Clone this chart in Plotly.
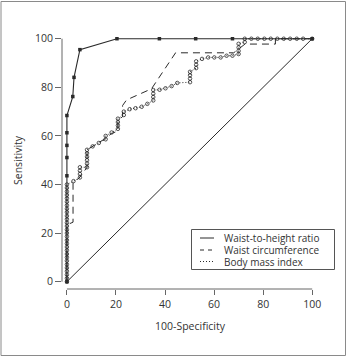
import plotly.graph_objects as go

# ---- data ----
whtr_x = [0, 0, 0, 0, 0, 0, 2.4, 2.9, 5.3, 20.4, 37.7, 52.5, 67.5, 100]
whtr_y = [0, 43.6, 51.1, 56.1, 61.3, 68.4, 76.2, 84.1, 95.5, 100, 100, 100, 100, 100]

wc_x = [0, 0, 2.5, 2.5, 5.3, 8.2, 8.2, 10.5, 13, 15.8, 18.2, 20.8, 20.8, 22.7, 22.7,
        24.3, 34.5, 44.3, 68, 70.6, 72.6, 85, 85, 100]
wc_y = [0, 23.4, 24.5, 40.6, 43, 47.1, 54.3, 55.7, 57.1, 59, 61, 62, 66, 68, 72.5,
        74.8, 79.4, 94.2, 94.2, 96.4, 97.8, 97.8, 100, 100]

bmi_x = [0, 0, 0, 0, 0, 0, 0, 0, 0, 0, 0, 0, 0, 0, 0, 0, 0, 0, 0, 0, 0, 0, 0, 0, 0, 0, 0, 0, 0,
         2.7,
         5.3, 5.3, 5.3, 5.3,
         8.2, 8.2, 8.2, 8.2, 8.2, 8.2,
         10.5, 13, 15.8, 15.8, 18.2,
         20.8, 20.8, 20.8, 20.8,
         23.2, 23.2, 25.6, 28, 30.5, 32.8,
         35.2, 35.2, 35.2, 35.2,
         37.8, 40.2, 42.7, 45,
         50.2, 50.2, 50.2, 50.2,
         52.7, 52.7, 52.7, 55.1,
         57.6, 60.1, 62.7, 65.1, 67.5,
         70, 70, 70, 70,
         72.5, 72.5,
         75.2, 77.8, 80.5, 83.1, 85.8, 88.4, 91, 93.7, 96.3, 100]
bmi_y = [0, 1.4, 2.9, 4.3, 5.7, 7.1, 8.6, 10, 11.4, 12.9, 14.3, 15.7, 17.1, 18.6, 20,
         21.4, 22.9, 24.3, 25.7, 27.1, 28.6, 30, 31.4, 32.9, 34.3, 35.7, 37.1, 38.6, 40,
         41.4,
         42.9, 44.3, 45.7, 47.1,
         47.1, 48.6, 50, 51.4, 52.9, 54.3,
         55.7, 57.1, 58.6, 60, 61.4,
         62.9, 64.3, 65.7, 67.1,
         68.6, 70, 71, 71.4, 72, 73.2,
         74.6, 76, 77.4, 78.9,
         79, 79.6, 80.5, 81.8,
         82.1, 83.6, 85, 86.4,
         87.9, 89.3, 90.7, 91.7,
         92.3, 92.3, 92.3, 93, 93,
         93.7, 95, 96.4, 97.9,
         98.6, 100,
         100, 100, 100, 100, 100, 100, 100, 100, 100, 100]

ref_x = [0, 100]
ref_y = [0, 100]

x_ticks = [0, 20, 40, 60, 80, 100]
y_ticks = [0, 20, 40, 60, 80, 100]
legend_labels = ["Waist-to-height ratio", "Waist circumference", "Body mass index"]

INK = "#2a2a2a"
TXT = "#333333"
AX = "#666666"
FONT = "Open Sans"
FS = 10.5
LFS = 10

W, H = 348, 357
ML, MR, MT, MB = 62, 26, 29, 68
PW, PH = W - ML - MR, H - MT - MB


def px(x):
    return (x - ML) / PW


def py(y):
    return (H - MB - y) / PH


fig = go.Figure()
fig.add_trace(go.Scatter(x=ref_x, y=ref_y, mode="lines",
                         line=dict(color=INK, width=1), showlegend=False))
fig.add_trace(go.Scatter(x=wc_x, y=wc_y, mode="lines",
                         line=dict(color=INK, width=1, dash="7px,5px"), showlegend=False))
fig.add_trace(go.Scatter(x=bmi_x, y=bmi_y, mode="lines+markers",
                         line=dict(color=INK, width=1, dash="1px,2px"),
                         marker=dict(symbol="circle-open", size=3.5, color=INK,
                                     line=dict(width=0.8, color=INK)),
                         showlegend=False))
fig.add_trace(go.Scatter(x=whtr_x, y=whtr_y, mode="lines+markers",
                         line=dict(color=INK, width=1.1),
                         marker=dict(symbol="square", size=3.5, color=INK),
                         showlegend=False))

shapes = []
# axis lines (R-style, spanning first to last tick)
shapes.append(dict(type="line", xref="x domain", x0=0, x1=0, yref="y", y0=0, y1=100,
                   line=dict(color=AX, width=1)))
shapes.append(dict(type="line", yref="y domain", y0=0, y1=0, xref="x", x0=0, x1=100,
                   line=dict(color=AX, width=1)))
# outer frame
shapes.append(dict(type="rect", xref="paper", yref="paper",
                   x0=px(1), x1=px(345.5), y0=py(355.5), y1=py(1.5),
                   line=dict(color="#8a8a8a", width=1)))
# legend box
shapes.append(dict(type="rect", xref="paper", yref="paper",
                   x0=px(191.5), x1=px(334.5), y0=py(269.5), y1=py(229.5),
                   line=dict(color="#555555", width=1), fillcolor="white"))
leg_dash = ["solid", "4px,4px", "1px,2px"]
leg_rows = [238, 250, 261.5]
annotations = []
for lab, d, r in zip(legend_labels, leg_dash, leg_rows):
    shapes.append(dict(type="line", xref="paper", yref="paper",
                       x0=px(200), x1=px(214), y0=py(r), y1=py(r),
                       line=dict(color=INK, width=1, dash=d)))
    annotations.append(dict(text=lab, xref="paper", yref="paper", x=px(222), y=py(r),
                            xanchor="left", yanchor="middle", showarrow=False,
                            font=dict(family=FONT, size=LFS, color=TXT)))

annotations.append(dict(text="Sensitivity", xref="paper", yref="paper",
                        x=px(18), y=py(160), textangle=-90, showarrow=False,
                        xanchor="center", yanchor="middle",
                        font=dict(family=FONT, size=FS, color=TXT)))
annotations.append(dict(text="100-Specificity", xref="paper", yref="paper",
                        x=px(190), y=py(326), showarrow=False,
                        xanchor="center", yanchor="middle",
                        font=dict(family=FONT, size=FS, color=TXT)))

fig.update_layout(
    width=W, height=H,
    margin=dict(l=ML, r=MR, t=MT, b=MB, pad=0),
    paper_bgcolor="white", plot_bgcolor="white",
    shapes=shapes, annotations=annotations,
    xaxis=dict(range=[-2, 104], tickvals=x_ticks, ticktext=[str(v) for v in x_ticks],
               showgrid=False, zeroline=False, showline=False,
               ticks="outside", ticklen=5, tickcolor=AX, tickwidth=1,
               tickfont=dict(family=FONT, size=FS, color=TXT)),
    yaxis=dict(range=[-3, 104], tickvals=y_ticks, ticktext=[str(v) for v in y_ticks],
               showgrid=False, zeroline=False, showline=False,
               ticks="outside", ticklen=6, tickcolor=AX, tickwidth=1,
               tickfont=dict(family=FONT, size=FS, color=TXT)),
    showlegend=False,
)

fig.write_html("out.html")
